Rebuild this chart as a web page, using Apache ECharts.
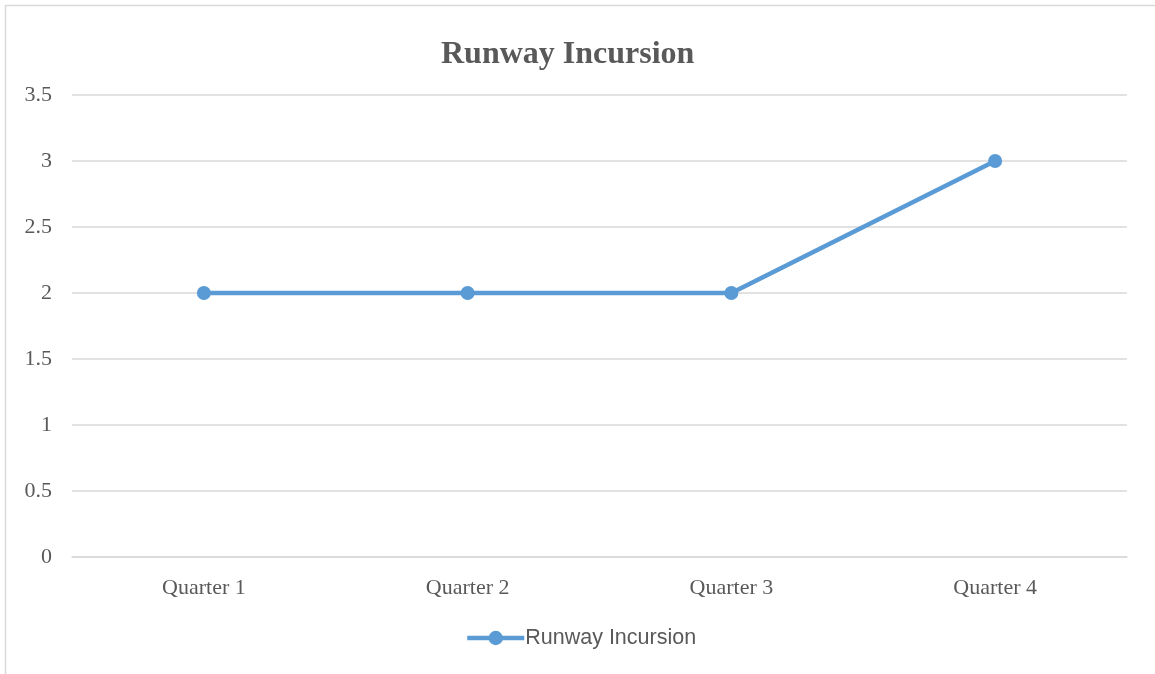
<!DOCTYPE html>
<html>
<head>
<meta charset="utf-8">
<script src="https://cdn.jsdelivr.net/npm/echarts@6/dist/echarts.min.js"></script>
<style>
  html, body { margin: 0; padding: 0; background: #fff; }
  #chart { width: 1155px; height: 674px; }
</style>
</head>
<body>
<div id="chart"></div>
<script>
// Quarterly runway incursion counts
const categories = ['Quarter 1', 'Quarter 2', 'Quarter 3', 'Quarter 4'];
const incursions = [2, 2, 2, 3];
const seriesName = 'Runway Incursion';
const chartTitle = 'Runway Incursion';

const chart = echarts.init(document.getElementById('chart'), null, { renderer: 'canvas' });

const serif = '"Liberation Serif", "Times New Roman", serif';
const textGray = '#595959';
const gridGray = '#d9d9d9';
const blue = '#5B9BD5';

chart.setOption({
  animation: false,
  backgroundColor: '#ffffff',
  graphic: [{
    type: 'rect',
    shape: { x: 5.5, y: 5.5, width: 1200, height: 700 },
    style: { fill: 'none', stroke: gridGray, lineWidth: 1.5 },
    silent: true,
    z: -1
  }],
  title: {
    text: chartTitle,
    left: 436,
    top: 34,
    textStyle: { fontFamily: serif, fontWeight: 'bold', fontSize: 32, color: textGray }
  },
  legend: {
    data: [seriesName],
    left: 460,
    top: 622,
    itemWidth: 57,
    itemHeight: 18,
    itemGap: 4,
    itemStyle: { color: blue },
    lineStyle: { color: blue, width: 4.5 },
    textStyle: { fontFamily: '"Liberation Sans", Arial, sans-serif', fontSize: 21.5, color: textGray, padding: [0, 0, 0, -4] }
  },
  grid: { left: 72, right: 28, top: 95, bottom: 117, containLabel: false },
  xAxis: {
    type: 'category',
    data: categories,
    boundaryGap: true,
    axisLine: { show: true, lineStyle: { color: gridGray, width: 1.5 } },
    axisTick: { show: false },
    axisLabel: { margin: 20, fontFamily: serif, fontSize: 22, color: textGray }
  },
  yAxis: {
    type: 'value',
    min: 0,
    max: 3.5,
    interval: 0.5,
    axisLine: { show: false },
    axisTick: { show: false },
    splitLine: { lineStyle: { color: gridGray, width: 1.5 } },
    axisLabel: { margin: 20, fontFamily: serif, fontSize: 22, color: textGray }
  },
  series: [{
    name: seriesName,
    type: 'line',
    data: incursions,
    symbol: 'circle',
    symbolSize: 14,
    lineStyle: { color: blue, width: 4.5 },
    itemStyle: { color: blue }
  }]
});
</script>
</body>
</html>
